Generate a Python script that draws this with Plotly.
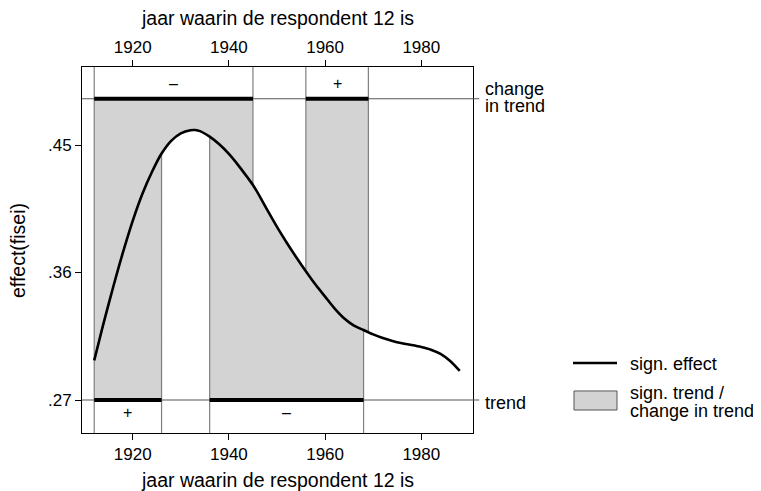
import plotly.graph_objects as go

# ---- data ----
years = [1912, 1913, 1914, 1916, 1918, 1920, 1922, 1924, 1926, 1928, 1930, 1932, 1933,
         1934, 1936, 1938, 1940, 1942, 1944, 1945, 1946, 1948, 1950, 1952, 1954, 1956,
         1958, 1960, 1962, 1964, 1966, 1968, 1969, 1970, 1972, 1974, 1976, 1978, 1980,
         1982, 1984, 1986, 1988]
effect = [0.298, 0.3115, 0.3250, 0.3505, 0.3745, 0.3965, 0.4155, 0.4310, 0.4440, 0.4530, 0.4583,
          0.4605, 0.4606, 0.4598, 0.4559, 0.4505, 0.4437, 0.4355, 0.4265, 0.4218, 0.4162,
          0.4040, 0.3922, 0.3812, 0.3708, 0.3609, 0.3515, 0.3430, 0.3345, 0.3275, 0.3225,
          0.3194, 0.3178, 0.3163, 0.3137, 0.3116, 0.3100, 0.3088, 0.3074, 0.3055, 0.3025,
          0.2975, 0.2905]

trend_level = 0.27
change_level = 0.4827
trend_regions = [(1912, 1926, "+"), (1936, 1968, "–")]
change_regions = [(1912, 1945, "–"), (1956, 1969, "+")]

x_ticks = [1920, 1940, 1960, 1980]
y_ticks = [0.27, 0.36, 0.45]
y_ticklabels = [".27", ".36", ".45"]

x_range = [1909.46, 1990.75]
y_range = [0.2467, 0.5051]

FONT = "Liberation Sans, Arial, Helvetica, sans-serif"
FILL = "#d3d3d3"
EDGE = "#7f7f7f"

# the page body has an 8px default margin; shift the drawing up/left to compensate
OFF = 8

fig = go.Figure()


def segment(a, b):
    xs = [y for y in years if a <= y <= b]
    vs = [effect[years.index(y)] for y in xs]
    return xs, vs


# trend regions: fill from trend line up to curve
for a, b, _ in trend_regions:
    xs, vs = segment(a, b)
    fig.add_trace(go.Scatter(x=[a] + xs + [b, a], y=[trend_level] + vs + [trend_level, trend_level],
                             fill="toself", fillcolor=FILL, mode="lines",
                             line=dict(color=EDGE, width=1.2), hoverinfo="skip", showlegend=False))
# change regions: fill from curve up to change line
for a, b, _ in change_regions:
    xs, vs = segment(a, b)
    fig.add_trace(go.Scatter(x=[a] + xs + [b, a], y=[change_level] + vs + [change_level, change_level],
                             fill="toself", fillcolor=FILL, mode="lines",
                             line=dict(color=EDGE, width=1.2), hoverinfo="skip", showlegend=False))

# effect curve
fig.add_trace(go.Scatter(x=years, y=effect, mode="lines",
                         line=dict(color="black", width=2.6, shape="spline", smoothing=0.8),
                         hoverinfo="skip", showlegend=False))

# dummy trace for top axis
fig.add_trace(go.Scatter(x=[x_ticks[0]], y=[0.3], xaxis="x2", mode="markers",
                         marker=dict(opacity=0), hoverinfo="skip", showlegend=False))

shapes = []
# vertical extensions
for a, b, _ in trend_regions:
    for xv in (a, b):
        shapes.append(dict(type="line", xref="x", yref="y", x0=xv, x1=xv, y0=y_range[0], y1=trend_level,
                           line=dict(color=EDGE, width=1.2), layer="above"))
for a, b, _ in change_regions:
    for xv in (a, b):
        shapes.append(dict(type="line", xref="x", yref="y", x0=xv, x1=xv, y0=change_level, y1=y_range[1],
                           line=dict(color=EDGE, width=1.2), layer="above"))
# horizontal reference lines (extend out to right as ticks)
for lvl in (trend_level, change_level):
    shapes.append(dict(type="line", xref="paper", yref="y", x0=0, x1=1.016, y0=lvl, y1=lvl,
                       line=dict(color="#555555", width=1.2), layer="above"))
# thick significance bars
for a, b, _ in trend_regions:
    shapes.append(dict(type="line", xref="x", yref="y", x0=a, x1=b, y0=trend_level, y1=trend_level,
                       line=dict(color="black", width=3.8), layer="above"))
for a, b, _ in change_regions:
    shapes.append(dict(type="line", xref="x", yref="y", x0=a, x1=b, y0=change_level, y1=change_level,
                       line=dict(color="black", width=3.8), layer="above"))

# legend (custom)
shapes.append(dict(type="line", xref="paper", yref="paper", x0=1.2558, x1=1.3683, y0=0.1913, y1=0.1913,
                   line=dict(color="black", width=2.6)))
shapes.append(dict(type="rect", xref="paper", yref="paper", x0=1.2583, x1=1.3683, y0=0.0628, y1=0.1148,
                   fillcolor=FILL, line=dict(color="#555555", width=1)))

annotations = []
for a, b, s in trend_regions:
    annotations.append(dict(x=(a + b) / 2, y=0.2612, xref="x", yref="y", text=s, showarrow=False,
                            font=dict(size=16, color="black", family=FONT)))
for a, b, s in change_regions:
    annotations.append(dict(x=(a + b) / 2, y=0.4937, xref="x", yref="y", text=s, showarrow=False,
                            font=dict(size=16, color="black", family=FONT)))

ttl = dict(size=19.5, color="black", family=FONT)
lab = dict(size=18, color="black", family=FONT)
annotations += [
    dict(x=0.5, y=1.1339, xref="paper", yref="paper", text="jaar waarin de respondent 12 is",
         showarrow=False, font=ttl, xanchor="center", yanchor="middle"),
    dict(x=0.5, y=-0.1284, xref="paper", yref="paper", text="jaar waarin de respondent 12 is",
         showarrow=False, font=ttl, xanchor="center", yanchor="middle"),
    dict(x=-0.1637, y=0.5, xref="paper", yref="paper", text="effect(fisei)", textangle=-90,
         showarrow=False, font=ttl, xanchor="center", yanchor="middle"),
    dict(x=1.0263, y=(433 - 88.5) / 366, xref="paper", yref="paper", text="change",
         showarrow=False, font=lab, xanchor="left", yanchor="middle"),
    dict(x=1.0263, y=(433 - 106) / 366, xref="paper", yref="paper", text="in trend",
         showarrow=False, font=lab, xanchor="left", yanchor="middle"),
    dict(x=1.0263, y=(433 - 402.5) / 366, xref="paper", yref="paper", text="trend",
         showarrow=False, font=lab, xanchor="left", yanchor="middle"),
    dict(x=1.3964, y=0.1877, xref="paper", yref="paper", text="sign. effect",
         showarrow=False, font=lab, xanchor="left", yanchor="middle"),
    dict(x=1.3964, y=0.1101, xref="paper", yref="paper", text="sign. trend /",
         showarrow=False, font=lab, xanchor="left", yanchor="middle"),
    dict(x=1.3964, y=0.0601, xref="paper", yref="paper", text="change in trend",
         showarrow=False, font=lab, xanchor="left", yanchor="middle"),
]

axis_common = dict(showgrid=False, zeroline=False, showline=True, linecolor="black", linewidth=1,
                   ticks="outside", ticklen=6, tickwidth=1, tickcolor="black",
                   tickfont=dict(size=17, color="black", family=FONT))

fig.update_layout(
    width=761, height=491,
    margin=dict(l=82 - OFF, r=288 + OFF, t=67 - OFF, b=58 + OFF, pad=0),
    plot_bgcolor="white", paper_bgcolor="white",
    showlegend=False,
    xaxis=dict(range=x_range, tickvals=x_ticks, ticktext=[str(t) for t in x_ticks], mirror=True,
               **axis_common),
    xaxis2=dict(range=x_range, tickvals=x_ticks, ticktext=[str(t) for t in x_ticks], overlaying="x",
                side="top", matches="x", **axis_common),
    yaxis=dict(range=y_range, tickvals=y_ticks, ticktext=y_ticklabels, mirror=True, **axis_common),
    shapes=shapes,
    annotations=annotations,
)

fig.write_html("out.html")
